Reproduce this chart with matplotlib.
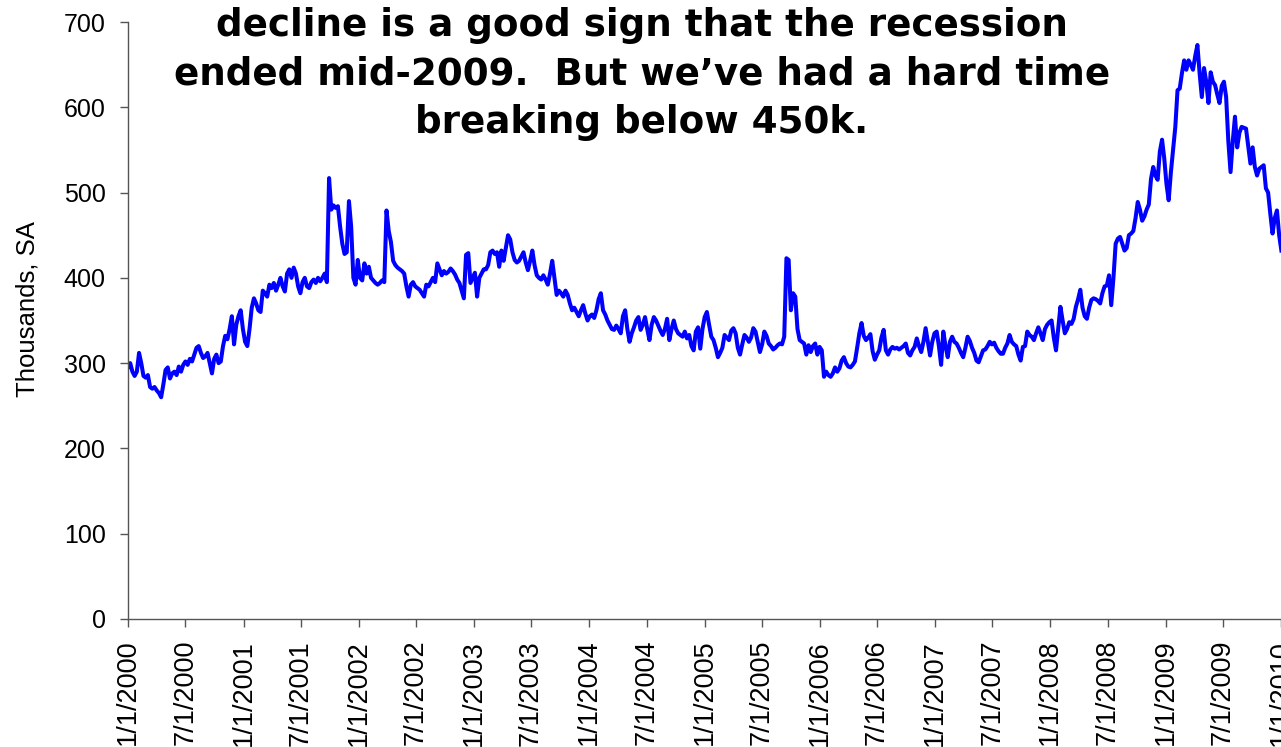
#!/usr/bin/env python3
# -*- coding: utf-8 -*-

import matplotlib
matplotlib.use("Agg")

import matplotlib.pyplot as plt
import pandas as pd

# weekly initial claims, thousands, seasonally adjusted
claims_2000 = [295, 300, 290, 285, 290, 312, 300, 285, 283, 286, 272, 270, 272,
               268, 265, 260, 275, 292, 295, 282, 288, 290, 286, 296, 290, 298,
               302, 298, 305, 302, 310, 318, 320, 312, 306, 308, 312, 300, 288,
               305, 310, 300, 302, 320, 332, 328, 340, 355, 322, 345, 355, 362]
claims_2001 = [340, 325, 320, 340, 365, 376, 370, 362, 360, 385, 382, 378, 392,
               388, 394, 385, 392, 400, 390, 384, 405, 410, 400, 412, 405, 390,
               382, 395, 400, 390, 388, 395, 398, 394, 400, 396, 400, 405, 395,
               517, 480, 485, 482, 484, 460, 440, 428, 430, 490, 460, 400, 392]
claims_2002 = [421, 400, 397, 417, 405, 413, 400, 397, 394, 392, 394, 397, 395,
               479, 455, 442, 420, 415, 412, 410, 408, 405, 390, 378, 392, 395,
               390, 388, 386, 382, 378, 392, 390, 395, 400, 395, 417, 410, 403,
               408, 405, 407, 411, 408, 404, 398, 394, 385, 376, 427, 429, 394]
claims_2003 = [400, 406, 378, 400, 405, 410, 410, 415, 430, 432, 428, 430, 413,
               432, 420, 435, 450, 445, 430, 421, 418, 420, 425, 430, 418, 409,
               420, 432, 415, 403, 400, 398, 403, 398, 392, 405, 420, 400, 380,
               385, 382, 378, 385, 380, 370, 362, 365, 360, 355, 362, 368, 358]
claims_2004 = [350, 355, 357, 353, 362, 375, 382, 362, 357, 350, 345, 340, 339,
               344, 340, 335, 355, 362, 340, 325, 335, 342, 350, 354, 339, 345,
               354, 340, 327, 345, 354, 350, 344, 338, 333, 340, 352, 327, 340,
               350, 340, 335, 333, 331, 337, 329, 333, 320, 315, 337, 342, 317]
claims_2005 = [340, 354, 360, 345, 331, 327, 318, 307, 312, 318, 333, 330, 327,
               338, 341, 335, 318, 310, 322, 333, 330, 325, 330, 341, 337, 325,
               313, 322, 337, 332, 323, 320, 316, 318, 321, 323, 322, 331, 423,
               421, 362, 382, 378, 340, 327, 325, 323, 310, 321, 313, 320, 323]
claims_2006 = [310, 319, 315, 284, 290, 286, 284, 288, 295, 290, 294, 303, 307,
               300, 296, 295, 298, 302, 318, 335, 347, 332, 327, 330, 334, 314,
               304, 310, 315, 330, 339, 315, 310, 316, 319, 317, 318, 316, 318,
               320, 323, 312, 309, 315, 319, 329, 320, 313, 325, 341, 325, 309]
claims_2007 = [325, 335, 337, 320, 298, 337, 320, 307, 325, 331, 325, 323, 318,
               312, 307, 318, 331, 326, 318, 312, 303, 301, 308, 315, 316, 320,
               325, 322, 324, 318, 314, 311, 311, 318, 323, 333, 325, 322, 320,
               310, 303, 319, 320, 337, 333, 331, 327, 335, 342, 335, 327, 340]
claims_2008 = [345, 348, 350, 330, 315, 340, 366, 350, 335, 340, 348, 346, 352,
               366, 375, 386, 365, 355, 352, 365, 374, 376, 375, 373, 370, 382,
               390, 391, 403, 368, 400, 440, 446, 448, 440, 432, 435, 450, 452,
               455, 470, 489, 480, 467, 472, 480, 486, 516, 530, 520, 515, 548]
claims_2009 = [562, 540, 510, 491, 524, 550, 577, 620, 622, 640, 655, 644, 655,
               650, 644, 660, 673, 640, 612, 646, 630, 605, 641, 630, 626, 615,
               605, 625, 630, 612, 560, 524, 560, 589, 553, 570, 577, 576, 575,
               555, 534, 553, 530, 520, 528, 530, 532, 505, 500, 475, 452, 470]
claims_2010 = [479, 450, 432]

claims = (claims_2000 + claims_2001 + claims_2002 + claims_2003 + claims_2004 +
          claims_2005 + claims_2006 + claims_2007 + claims_2008 + claims_2009 +
          claims_2010)
weeks = pd.date_range("2000-01-01", periods=len(claims), freq="7D")

tick_dates = pd.date_range("2000-01-01", "2010-01-01", freq="6MS")
tick_labels = [f"{d.month}/1/{d.year}" for d in tick_dates]

title_lines = ["decline is a good sign that the recession",
               "ended mid-2009.  But we\u2019ve had a hard time",
               "breaking below 450k."]

plt.rcParams["font.family"] = ["Liberation Sans", "DejaVu Sans"]

fig = plt.figure(figsize=(12.81, 7.47), dpi=100)
ax = fig.add_axes([128 / 1281, 1 - 619 / 747, 1154 / 1281, 597 / 747])

ax.plot(weeks, claims, color="#0000ff", lw=2.9, solid_joinstyle="round")

ax.set_xlim(pd.Timestamp("2000-01-01"), pd.Timestamp("2010-01-04"))
ax.set_ylim(0, 700)
ax.set_yticks(range(0, 701, 100))
ax.set_xticks(tick_dates)
ax.set_xticklabels(tick_labels, rotation=90, va="top")

ax.tick_params(axis="both", direction="out", length=6, width=1,
               color="#555555")
ax.tick_params(axis="y", pad=10, labelsize=18)
ax.tick_params(axis="x", pad=9, labelsize=19.5)

for side in ("top", "right"):
    ax.spines[side].set_visible(False)
for side in ("left", "bottom"):
    ax.spines[side].set_color("#555555")
    ax.spines[side].set_linewidth(1)

ax.set_ylabel("Thousands, SA", fontsize=18.5)
ax.yaxis.set_label_coords(-0.077, 0.519)

fig.text(642 / 1281, 1 - 7 / 747, "\n".join(title_lines), ha="center",
         va="top", fontsize=26.8, fontweight="bold", linespacing=1.4,
         family=["DejaVu Sans"])

fig.savefig("out.png", dpi=100)
